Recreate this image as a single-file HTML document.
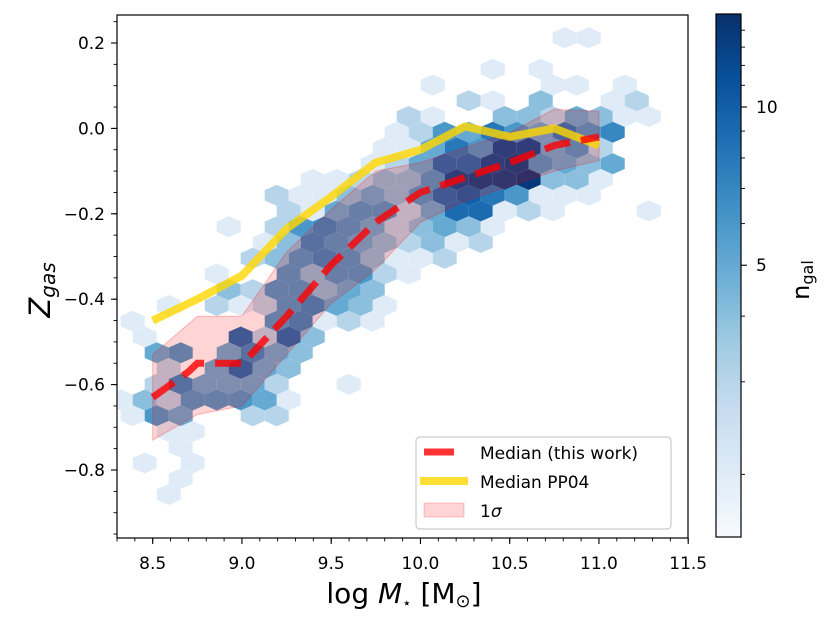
<!DOCTYPE html>
<html><head><meta charset="utf-8">
<style>
html,body{margin:0;padding:0;background:#fff;}
svg{display:block;font-family:"DejaVu Sans","Liberation Sans",sans-serif;}
</style></head>
<body>
<svg id="chart" width="830" height="628" viewBox="0 0 830 628" xmlns="http://www.w3.org/2000/svg">
  <defs>
    <linearGradient id="cbgrad" x1="0" y1="1" x2="0" y2="0">
      <stop offset="0" stop-color="#f7fbff"/><stop offset="0.125" stop-color="#deebf7"/>
      <stop offset="0.25" stop-color="#c6dbef"/><stop offset="0.375" stop-color="#9ecae1"/>
      <stop offset="0.5" stop-color="#6baed6"/><stop offset="0.625" stop-color="#4292c6"/>
      <stop offset="0.75" stop-color="#2171b5"/><stop offset="0.875" stop-color="#08519c"/>
      <stop offset="1" stop-color="#08306b"/>
    </linearGradient>
    <clipPath id="plotclip"><rect x="117" y="15" width="571" height="523"/></clipPath>
  </defs>
  <g id="hexes" clip-path="url(#plotclip)"></g>
  <g id="sigma" clip-path="url(#plotclip)"></g>
  <g id="lines" clip-path="url(#plotclip)"></g>
  <rect x="117" y="15" width="571" height="523" fill="none" stroke="#000" stroke-width="1.2"/>
  <g id="xaxis"></g>
  <g id="yaxis"></g>
  <text x="404" y="603" font-size="28" text-anchor="middle">log <tspan font-style="italic">M</tspan><tspan font-size="15" dy="5">⋆</tspan><tspan dy="-5"> [M</tspan><tspan font-size="18" dy="4">⊙</tspan><tspan dy="-4">]</tspan></text>
  <text transform="translate(50,290) rotate(-90)" font-size="29" text-anchor="middle" font-style="italic">Z<tspan font-size="20" dy="5">gas</tspan></text>
  <g id="legend">
    <rect x="416" y="437" width="255" height="92" rx="4" fill="#fff" fill-opacity="0.85" stroke="#ccc" stroke-width="1.2"/>
    <line x1="424" y1="452" x2="454" y2="452" stroke="rgba(255,0,0,0.8)" stroke-width="7"/>
    <text x="480" y="459" font-size="17">Median (this work)</text>
    <line x1="420" y1="481" x2="468" y2="481" stroke="rgba(255,215,0,0.8)" stroke-width="8"/>
    <text x="480" y="488" font-size="17">Median PP04</text>
    <rect x="424" y="503" width="40" height="14" fill="rgba(255,0,0,0.17)" stroke="rgba(255,0,0,0.2)"/>
    <text x="480" y="517" font-size="17">1<tspan font-style="italic">σ</tspan></text>
  </g>
  <g id="colorbar">
    <rect x="716" y="14" width="25" height="523" fill="url(#cbgrad)" stroke="#000" stroke-width="1.2"/>
  </g>
  <text transform="translate(809,280) rotate(-90)" font-size="24" text-anchor="middle">n<tspan font-size="16" dy="4">gal</tspan></text>
</svg>
<script>
const NS = "http://www.w3.org/2000/svg";
// ---- data ----
const xTicks = [8.5, 9.0, 9.5, 10.0, 10.5, 11.0, 11.5];
const xTickLabels = ["8.5", "9.0", "9.5", "10.0", "10.5", "11.0", "11.5"];
const yTicks = [0.2, 0.0, -0.2, -0.4, -0.6, -0.8];
const yTickLabels = ["0.2", "0.0", "\u22120.2", "\u22120.4", "\u22120.6", "\u22120.8"];
const cbTicks = [5, 10];
const cbTickLabels = ["5", "10"];
const cbMinorTicks = [2, 3, 4, 6, 7, 8, 9, 11, 12, 13, 14];
const medianX = [8.5, 8.7, 8.75, 9.0, 9.05, 9.25, 9.5, 9.75, 10.0, 10.25, 10.5, 10.75, 11.0];
const medianY = [-0.63, -0.57, -0.55, -0.55, -0.53, -0.44, -0.32, -0.22, -0.15, -0.115, -0.08, -0.04, -0.02];
const pp04X = [8.5, 8.75, 9.0, 9.25, 9.5, 9.75, 10.0, 10.25, 10.5, 10.75, 11.0];
const pp04Y = [-0.45, -0.40, -0.345, -0.235, -0.16, -0.08, -0.05, 0.005, -0.02, 0.0, -0.04];
const sigmaX = [8.5, 8.75, 9.0, 9.25, 9.5, 9.75, 10.0, 10.25, 10.5, 10.75, 11.0];
const sigmaUpper = [-0.53, -0.44, -0.44, -0.29, -0.19, -0.10, -0.08, -0.045, -0.01, 0.045, 0.04];
const sigmaLower = [-0.73, -0.67, -0.65, -0.53, -0.41, -0.33, -0.22, -0.17, -0.135, -0.10, -0.075];
// hexbin cells: [row, col, count]
const hexCells = [
[0,36,2],[0,38,2],
[2,30,2],[2,34,2],
[3,25,2],[3,35,2],[3,37,2],[3,41,2],
[4,28,3],[4,30,2],[4,34,4],[4,40,2],[4,42,3],
[5,23,3],[5,25,2],[5,31,4],[5,33,4],[5,35,3],[5,37,5],[5,39,4],[5,41,2],[5,43,2],
[6,22,2],[6,24,3],[6,26,6],[6,28,5],[6,30,8],[6,32,6],[6,34,5],[6,36,8],[6,38,6],[6,40,7],
[7,21,2],[7,23,2],[7,25,5],[7,27,8],[7,29,6],[7,31,12],[7,33,12],[7,35,5],[7,37,6],[7,39,3],
[8,20,2],[8,22,3],[8,24,5],[8,26,9],[8,28,9],[8,30,12],[8,32,13],[8,34,6],[8,36,5],[8,38,4],[8,40,5],
[9,15,2],[9,17,2],[9,19,3],[9,21,4],[9,23,4],[9,25,6],[9,27,12],[9,29,13],[9,31,13],[9,33,14],[9,35,4],[9,37,4],[9,39,2],
[10,12,3],[10,14,2],[10,16,2],[10,18,4],[10,20,5],[10,22,4],[10,24,6],[10,26,9],[10,28,10],[10,30,8],[10,32,6],[10,34,2],[10,36,2],[10,38,2],
[11,13,3],[11,15,2],[11,17,5],[11,19,6],[11,21,6],[11,23,3],[11,25,5],[11,27,9],[11,29,9],[11,31,2],[11,33,3],[11,35,2],[11,43,2],
[12,8,2],[12,12,3],[12,14,6],[12,16,7],[12,18,6],[12,20,5],[12,22,3],[12,24,4],[12,26,5],[12,28,4],[12,30,2],
[13,11,2],[13,13,4],[13,15,7],[13,17,6],[13,19,5],[13,21,4],[13,23,3],[13,25,4],[13,27,2],[13,29,3],
[14,10,3],[14,12,4],[14,14,6],[14,16,7],[14,18,6],[14,20,4],[14,22,2],[14,24,2],[14,26,3],
[15,7,2],[15,13,6],[15,15,4],[15,17,6],[15,19,6],[15,21,3],[15,23,2],
[16,8,4],[16,10,3],[16,12,6],[16,14,6],[16,16,4],[16,18,5],[16,20,4],
[17,3,2],[17,7,3],[17,9,2],[17,11,3],[17,13,6],[17,15,7],[17,17,5],[17,19,4],[17,21,2],
[18,0,2],[18,12,6],[18,14,7],[18,16,2],[18,18,3],[18,20,2],
[19,1,2],[19,9,9],[19,11,3],[19,13,9],[19,15,4],
[20,2,5],[20,4,6],[20,8,5],[20,10,7],[20,12,5],[20,14,4],
[21,3,3],[21,7,5],[21,9,9],[21,11,5],[21,13,4],
[22,2,3],[22,4,7],[22,6,5],[22,8,5],[22,10,5],[22,12,3],[22,18,2],
[23,-1,2],[23,1,4],[23,3,3],[23,5,6],[23,7,6],[23,9,6],[23,11,5],[23,13,2],
[24,0,2],[24,2,6],[24,4,5],[24,10,3],[24,12,3],
[25,3,2],[25,5,2],[26,4,2],[27,1,2],[27,5,2],[28,4,2],[29,3,2]
];
// ---- scales ----
const X0 = 152.7, XPU = 178.5;
const Y0 = 128.4, YPU = 427;
function sx(v){ return X0 + (v - 8.5) * XPU; }
function sy(v){ return Y0 - v * YPU; }
const gridX0 = 8.388, gridDX = 0.06723, gridY0 = 0.2124, gridDY = 0.03689;
const cbMin = 1.52, cbMax = 15.03, cbTop = 14, cbBot = 537;
function cbY(v){ return cbBot - (Math.log(v/cbMin)/Math.log(cbMax/cbMin)) * (cbBot - cbTop); }
const blues = [[247,251,255],[222,235,247],[198,219,239],[158,202,225],[107,174,214],[66,146,198],[33,113,181],[8,81,156],[8,48,107]];
function blueColor(n){
  let t = Math.log(n/cbMin)/Math.log(cbMax/cbMin);
  t = Math.max(0, Math.min(1, t));
  const p = t * 8, i = Math.min(7, Math.floor(p)), f = p - i;
  const a = blues[i], b = blues[i+1];
  return "rgb(" + [0,1,2].map(j => Math.round(a[j] + (b[j]-a[j]) * f)).join(",") + ")";
}
function mk(tag, attrs, parent){
  const e = document.createElementNS(NS, tag);
  for (const k in attrs) e.setAttribute(k, attrs[k]);
  parent.appendChild(e);
  return e;
}
// ---- hexes ----
const gHex = document.getElementById("hexes");
const hw = sx(8.5 + gridDX) - sx(8.5);
const hh = (sy(0) - sy(gridDY)) * 2 / 3;
hexCells.forEach(function(cell){
  const cx = sx(gridX0 + cell[1] * gridDX);
  const cy = sy(gridY0 - cell[0] * gridDY);
  const pts = [[hw, -hh/2],[hw, hh/2],[0, hh],[-hw, hh/2],[-hw, -hh/2],[0, -hh]]
    .map(p => (cx + p[0]).toFixed(2) + "," + (cy + p[1]).toFixed(2)).join(" ");
  const h = mk("polygon", {points: pts, fill: blueColor(cell[2])}, gHex);
  
  
});
// ---- sigma band ----
const gSig = document.getElementById("sigma");
let sp = sigmaX.map((x,i) => sx(x).toFixed(1) + "," + sy(sigmaUpper[i]).toFixed(1));
for (let i = sigmaX.length - 1; i >= 0; i--) sp.push(sx(sigmaX[i]).toFixed(1) + "," + sy(sigmaLower[i]).toFixed(1));
const band = mk("polygon", {points: sp.join(" "), fill: "rgba(255,0,0,0.17)", stroke: "rgba(255,0,0,0.22)", "stroke-width": 1.2}, gSig);


// ---- lines ----
const gL = document.getElementById("lines");
const pp = mk("polyline", {points: pp04X.map((x,i) => sx(x).toFixed(1) + "," + sy(pp04Y[i]).toFixed(1)).join(" "),
  fill: "none", stroke: "rgba(255,215,0,0.8)", "stroke-width": 8, "stroke-linejoin": "round"}, gL);


const md = mk("polyline", {points: medianX.map((x,i) => sx(x).toFixed(1) + "," + sy(medianY[i]).toFixed(1)).join(" "),
  fill: "none", stroke: "rgba(255,0,0,0.8)", "stroke-width": 7, "stroke-dasharray": "26 11"}, gL);


// ---- axes ----
const gX = document.getElementById("xaxis");
for (let v = 8.3; v <= 11.51; v += 0.1) {
  const x = sx(v); if (x < 117 || x > 688.5) continue;
  const t = mk("line", {x1: x, y1: 538, x2: x, y2: 541.5, stroke: "#000", "stroke-width": 0.9}, gX);
  
  
}
xTicks.forEach(function(v, i){
  const x = sx(v);
  const t = mk("line", {x1: x, y1: 538, x2: x, y2: 544, stroke: "#000", "stroke-width": 1.1}, gX);
  
  
  const l = mk("text", {x: x, y: 569, "font-size": 17, "text-anchor": "middle"}, gX);
  l.textContent = xTickLabels[i];
  
  
});
const gY = document.getElementById("yaxis");
for (let v = -0.95; v <= 0.26; v += 0.05) {
  const y = sy(v); if (y < 15 || y > 538) continue;
  const t = mk("line", {x1: 113.5, y1: y, x2: 117, y2: y, stroke: "#000", "stroke-width": 0.9}, gY);
  
  
}
yTicks.forEach(function(v, i){
  const y = sy(v);
  const t = mk("line", {x1: 111, y1: y, x2: 117, y2: y, stroke: "#000", "stroke-width": 1.1}, gY);
  
  
  const l = mk("text", {x: 105, y: y + 6, "font-size": 17, "text-anchor": "end"}, gY);
  l.textContent = yTickLabels[i];
  
  
});
// ---- colorbar ticks ----
const gC = document.getElementById("colorbar");
cbMinorTicks.forEach(function(v){
  const y = cbY(v);
  const t = mk("line", {x1: 741, y1: y, x2: 745, y2: y, stroke: "#000", "stroke-width": 0.9}, gC);
  
  
});
cbTicks.forEach(function(v, i){
  const y = cbY(v);
  const t = mk("line", {x1: 741, y1: y, x2: 747, y2: y, stroke: "#000", "stroke-width": 1.1}, gC);
  
  
  const l = mk("text", {x: 756, y: y + 6, "font-size": 17}, gC);
  l.textContent = cbTickLabels[i];
  
  
});
</script>
</body></html>
